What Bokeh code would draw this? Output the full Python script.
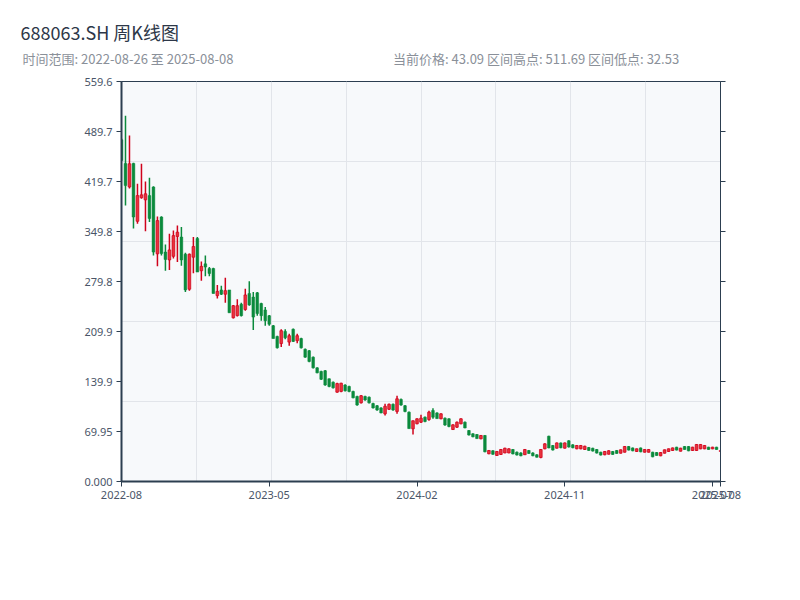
from bokeh.plotting import figure
from bokeh.models import Range1d, LinearAxis, FixedTicker, ColumnDataSource
from bokeh.embed import file_html
from bokeh.resources import INLINE

# ---- data (weekly OHLC) ----
opens = [478, 445, 412, 445, 364, 397, 394, 400, 412, 318.5,
         370, 321, 310, 315, 342.8, 342, 318, 269, 313.8, 340,
         294.8, 304.5, 298, 298, 260, 268, 262, 268, 229, 232,
         248, 240.6, 263, 258, 264, 249, 240, 232, 218, 203,
         193, 210, 195, 213, 197, 200, 185, 183, 174, 159,
         154, 155, 143.7, 139, 125, 126, 135, 133, 126, 119,
         110, 119, 118, 109, 106, 103, 94.7, 101, 108, 98,
         114.7, 106, 97, 73.7, 80.7, 83, 90, 86.7, 99.3, 96,
         87.7, 88.6, 87.7, 72.7, 76, 80.7, 83, 71.3, 66.7, 65.7,
         59.7, 64.4, 38.8, 43, 36.4, 37.8, 40, 40, 44.8, 41,
         40, 37.4, 43.4, 40, 37.4, 33.6, 45.7, 63.4, 50.4, 46.6,
         54, 46.6, 57, 51.3, 45.7, 45.7, 44.8, 47.6, 46.6, 44.8,
         41, 37.4, 38.2, 42, 43.4, 39.6, 41, 49, 47, 42,
         47, 41, 41, 41, 40.5, 36, 39.6, 42, 43.4, 48,
         42.4, 49, 49, 43.4, 43.4, 45.7, 45.7, 48, 45.7, 48,
         42.2]
highs = [480, 511.69, 484, 446, 416.5, 444.5, 419.7, 425, 413, 370.7,
         371, 331.6, 346.5, 351, 358, 356, 320, 319, 342, 342,
         307.8, 316, 300, 299, 275, 274, 285, 268, 247, 255,
         250, 269.6, 280, 265, 265, 250, 244, 233, 219, 204,
         213, 213, 206.6, 214, 206.6, 201, 186, 184, 175, 160,
         155, 156, 144, 140, 138, 138, 136, 134, 127, 120,
         121, 120, 119, 110, 107, 104, 108.6, 109, 109, 120,
         116, 107, 98, 85.3, 88.5, 93.3, 91, 99, 102.6, 97,
         95.5, 89.5, 88.5, 80, 84, 88.5, 84, 72, 67.5, 66.5,
         65, 65, 44, 43.8, 42.8, 45.5, 47.3, 46.5, 45.5, 41.8,
         40.8, 45.5, 44, 40.8, 38, 45.5, 53.5, 64, 51, 54.7,
         54.7, 54.7, 57.7, 52, 51, 51, 50, 48.2, 47.2, 45.4,
         41.6, 42.6, 43.6, 42.6, 44, 44.9, 49.6, 49.6, 47.6, 46.3,
         47.6, 45.4, 45.4, 41.6, 41.1, 41.1, 44.9, 46.3, 47.6, 48.6,
         47.2, 49.6, 49.6, 48.6, 52.4, 52.4, 51, 48.6, 48.6, 48.6,
         43.7]
lows = [449, 386, 410, 354, 360.5, 395.5, 350, 363, 316, 301,
        316, 295, 296, 312, 307, 302, 265, 267, 291.5, 293,
        281, 287, 287, 263, 256, 261, 250, 236, 228, 231,
        231, 239, 246, 212, 232, 225, 218, 218, 200, 186,
        188, 199, 190, 195, 193.5, 186, 173, 167, 158, 151.5,
        142, 134, 132, 130, 124, 125, 126, 125, 116.5, 106,
        109, 113, 109, 102, 99, 95.5, 92.3, 100, 99, 94.7,
        106, 97, 73.7, 65.7, 80, 82, 83, 85, 87.7, 87.7,
        87, 78, 76, 72, 75, 80, 74.6, 64.4, 62, 59.7,
        59, 41, 38, 37.4, 35.8, 37, 39.5, 39.5, 38, 36.4,
        35.4, 37, 38.8, 35.4, 33.6, 32.53, 45, 46.6, 43.4, 46,
        46.6, 46, 47.6, 46.6, 45, 45, 44.2, 43, 42, 39.2,
        36.4, 36.8, 37.6, 37.4, 38.8, 39, 40.4, 43.4, 42.4, 41.4,
        41, 40.4, 40.4, 34, 36, 35.4, 39, 41.4, 42.8, 43.4,
        41.8, 44.3, 42.4, 42.8, 42.8, 45.1, 45.1, 44.3, 45.1, 44.3,
        41.6]
closes = [449, 414, 444.5, 370, 400, 401, 402.5, 368, 321, 365,
          319, 310.6, 324, 344, 348.8, 310, 268, 318, 328.7, 293,
          301, 300, 291, 263, 266, 262, 267, 236, 246, 246,
          232, 261, 247, 230, 235, 232, 225, 220, 200, 187,
          211, 201, 204, 196, 204, 187, 174, 168, 159, 152,
          143, 135, 133, 131, 137, 137.5, 127, 126, 117, 107,
          120, 114, 110, 103, 100, 96, 105.3, 108, 100, 115.7,
          107, 98, 74, 85, 87.7, 88.6, 84, 97, 90, 88,
          94.7, 79, 77, 79.3, 83, 87.7, 75, 65, 62.5, 60,
          64.4, 41.5, 43.4, 38, 42, 44.8, 46.6, 45.7, 38.5, 37,
          36, 44.8, 39.3, 36, 34, 44.8, 52.7, 47, 44, 54,
          47.2, 54, 48.2, 47.2, 50.4, 50.4, 49.4, 43.5, 42.5, 39.7,
          36.9, 42, 43, 37.9, 39.3, 44.3, 49, 43.9, 42.9, 45.7,
          41.5, 44.8, 44.8, 34.5, 36.5, 40.5, 44.3, 45.7, 47, 43.9,
          46.6, 44.8, 42.9, 48, 51.8, 51.8, 50.4, 44.8, 48, 44.8,
          43.09]

x_tick_idx = [0, 37, 74, 111, 148, 150]
x_tick_labels = ["2022-08", "2023-05", "2024-02", "2024-11", "2025-07", "2025-08"]
y_ticks = [0, 69.95, 139.9, 209.85, 279.8, 349.75, 419.7, 489.65, 559.6]
y_tick_labels = ["0.000", "69.95", "139.9", "209.9", "279.8", "349.8", "419.7", "489.7", "559.6"]

title_text = "688063.SH 周K线图"
range_text = "时间范围: 2022-08-26 至 2025-08-08"
stats_text = "当前价格: 43.09  区间高点: 511.69  区间低点: 32.53"

# ---- styling ----
RED_FILL = "#e8323c"
RED_LINE = "#d0021b"
GREEN = "#0b8a3c"
AXIS = "#2c3e50"
TICK_TXT = "#4a5568"
SUB_TXT = "#8a9099"
CJK = "Noto Sans CJK SC"
FRAME_W, FRAME_H = 599, 400

n = len(opens)
xs = list(range(n))
up = [c >= o for o, c in zip(opens, closes)]

def subset(flag):
    idx = [i for i in range(n) if up[i] == flag]
    return ColumnDataSource(dict(
        x=[xs[i] for i in idx],
        h=[highs[i] for i in idx],
        l=[lows[i] for i in idx],
        top=[max(opens[i], closes[i]) for i in idx],
        bot=[min(opens[i], closes[i]) for i in idx],
    ))

src_up = subset(True)
src_dn = subset(False)

y_max = 559.6
p = figure(frame_width=FRAME_W, frame_height=FRAME_H,
           x_range=Range1d(0, n - 1), y_range=Range1d(0, y_max),
           output_backend="svg", toolbar_location=None,
           min_border_left=121, min_border_top=81, min_border_right=64,
           min_border_bottom=90)
p.border_fill_color = "white"
p.background_fill_color = "#f7f9fb"
p.outline_line_color = AXIS
p.outline_line_width = 1

xa = p.below[0]
ya = p.left[0]

# main title
p.title.text = title_text
p.title.align = "left"
p.title.offset = -101
p.title.text_font = CJK
p.title.text_font_size = "18px"
p.title.text_font_style = "normal"
p.title.text_color = "#2d3748"
p.title.standoff = 2

# subtitle row as labels of a bare top axis (pixel coordinates of the frame)
p.extra_x_ranges = {"px": Range1d(0, FRAME_W)}
head_pos = [6.5, 417.5]
top_ax = LinearAxis(x_range_name="px", ticker=FixedTicker(ticks=head_pos))
top_ax.major_label_overrides = {head_pos[0]: range_text, head_pos[1]: stats_text}
top_ax.axis_line_color = None
top_ax.major_tick_line_color = None
top_ax.minor_tick_line_color = None
top_ax.major_tick_out = 0
top_ax.major_tick_in = 0
top_ax.major_label_standoff = 14
top_ax.major_label_text_font = CJK
top_ax.major_label_text_font_size = "13px"
top_ax.major_label_text_color = SUB_TXT
p.add_layout(top_ax, "above")

p.xgrid.ticker = FixedTicker(ticks=[(n - 1) * k / 8 for k in range(1, 8)])
p.ygrid.ticker = FixedTicker(ticks=[y_max * k / 5 for k in range(1, 5)])
p.xgrid.grid_line_color = "#e2e5ea"
p.ygrid.grid_line_color = "#e2e5ea"

p.segment(x0="x", y0="l", x1="x", y1="h", source=src_dn, line_color=GREEN, line_width=1.5)
p.vbar(x="x", top="top", bottom="bot", width=0.68, source=src_dn,
       fill_color=GREEN, line_color=GREEN, line_width=0.5)
p.segment(x0="x", y0="l", x1="x", y1="h", source=src_up, line_color=RED_LINE, line_width=1.5)
p.vbar(x="x", top="top", bottom="bot", width=0.68, source=src_up,
       fill_color=RED_FILL, line_color=RED_LINE, line_width=0.7)

xa.ticker = FixedTicker(ticks=x_tick_idx)
xa.major_label_overrides = {t: s for t, s in zip(x_tick_idx, x_tick_labels)}
ya.ticker = FixedTicker(ticks=y_ticks)
ya.major_label_overrides = {t: s for t, s in zip(y_ticks, y_tick_labels)}

for ax in (xa, ya):
    ax.axis_line_color = AXIS
    ax.axis_line_width = 2
    ax.major_tick_line_color = AXIS
    ax.major_tick_out = 5
    ax.major_tick_in = 0
    ax.minor_tick_line_color = None
    ax.major_label_text_color = TICK_TXT
    ax.major_label_text_font = "Noto Sans"
    ax.major_label_text_font_size = "11px"
    ax.major_label_standoff = 4

ra = LinearAxis(ticker=FixedTicker(ticks=y_ticks))
ra.axis_line_color = AXIS
ra.axis_line_width = 1
ra.major_tick_line_color = AXIS
ra.major_tick_out = 5
ra.major_tick_in = 0
ra.minor_tick_line_color = None
ra.major_label_text_font_size = "0px"
ra.major_label_text_color = None
p.add_layout(ra, "right")

open("out.html", "w").write(file_html(p, INLINE))
